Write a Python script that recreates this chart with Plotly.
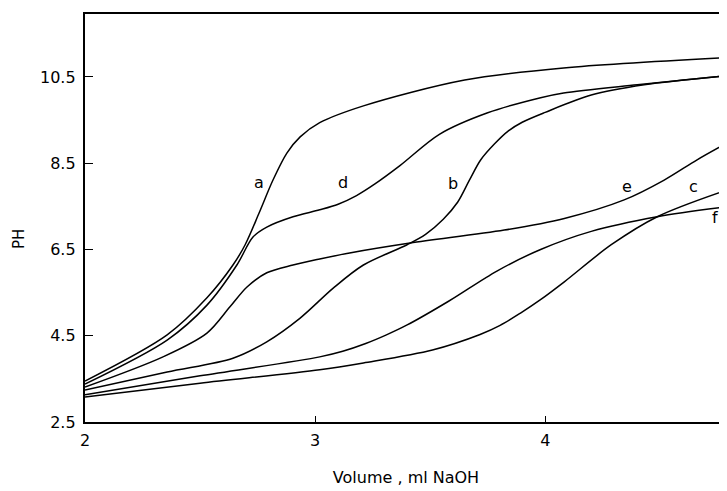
import plotly.graph_objects as go

# ---- data ----
a_x = [2.0, 2.357, 2.53, 2.643, 2.696, 2.757, 2.817, 2.878, 2.935, 3.02, 3.21, 3.65, 4.08, 4.79]
a_y = [3.45, 4.52, 5.38, 6.14, 6.61, 7.35, 8.11, 8.74, 9.11, 9.44, 9.83, 10.43, 10.71, 10.95]

d_x = [2.0, 2.357, 2.53, 2.66, 2.73, 2.79, 2.904, 3.02, 3.10, 3.18, 3.26, 3.37, 3.54, 3.75, 3.98, 4.08, 4.40, 4.79]
d_y = [3.38, 4.40, 5.21, 6.14, 6.79, 7.02, 7.26, 7.42, 7.55, 7.75, 8.02, 8.45, 9.17, 9.67, 10.02, 10.13, 10.32, 10.53]

b_x = [2.0, 2.357, 2.643, 2.79, 2.935, 3.08, 3.21, 3.40, 3.48, 3.557, 3.62, 3.67, 3.72, 3.78, 3.84, 3.90, 4.0, 4.2, 4.43, 4.79]
b_y = [3.24, 3.66, 3.98, 4.36, 4.91, 5.61, 6.14, 6.61, 6.85, 7.20, 7.60, 8.10, 8.58, 8.95, 9.25, 9.45, 9.68, 10.08, 10.32, 10.53]

e_x = [2.0, 2.339, 2.53, 2.63, 2.704, 2.79, 2.904, 3.02, 3.15, 3.413, 3.822, 4.083, 4.343, 4.517, 4.66, 4.79]
e_y = [3.31, 4.01, 4.56, 5.17, 5.63, 5.96, 6.14, 6.28, 6.42, 6.65, 6.95, 7.22, 7.65, 8.11, 8.58, 8.97]

f_x = [2.0, 2.5, 3.02, 3.12, 3.22, 3.31, 3.4, 3.58, 3.79, 3.98, 4.2, 4.487, 4.79]
f_y = [3.13, 3.57, 4.01, 4.14, 4.32, 4.52, 4.75, 5.30, 6.00, 6.50, 6.92, 7.26, 7.49]

c_x = [2.0, 2.5, 3.02, 3.21, 3.51, 3.717, 3.804, 3.891, 3.978, 4.083, 4.287, 4.487, 4.79]
c_y = [3.08, 3.40, 3.71, 3.87, 4.17, 4.53, 4.74, 5.02, 5.33, 5.75, 6.61, 7.26, 7.88]

curve_names = ["a", "d", "b", "e", "f", "c"]
label_names = ["a", "d", "b", "e", "f", "c"]
label_x = [2.757, 3.122, 3.60, 4.357, 4.74, 4.643]
label_y = [8.05, 8.05, 8.03, 7.96, 7.24, 7.96]

x_ticks = [2, 3, 4]
y_ticks = [2.5, 4.5, 6.5, 8.5, 10.5]
y_ticktext = ["2.5", "4.5", "6.5", "8.5", "10.5"]

series = {"a": (a_x, a_y), "d": (d_x, d_y), "b": (b_x, b_y),
          "e": (e_x, e_y), "f": (f_x, f_y), "c": (c_x, c_y)}

FONT = "DejaVu Sans"
fig = go.Figure()
for name in curve_names:
    xs, ys = series[name]
    fig.add_trace(go.Scatter(x=xs, y=ys, mode="lines", name=name,
                             line=dict(color="black", width=1.5, shape="spline", smoothing=0.9),
                             showlegend=False, hoverinfo="skip"))

for lx, ly, lt in zip(label_x, label_y, label_names):
    fig.add_annotation(x=lx, y=ly, text=lt, showarrow=False,
                       font=dict(family=FONT, size=16, color="black"))

# page body adds an 8px offset; margins compensate so the axes land where the reference has them
fig.add_annotation(xref="paper", yref="y", x=-0.104, y=6.75, text="PH", textangle=-90,
                   xanchor="center", yanchor="middle",
                   showarrow=False, font=dict(family=FONT, size=15, color="black"))

fig.update_layout(
    width=727, height=491,
    margin=dict(l=77, r=8, t=6, b=77, autoexpand=False),
    paper_bgcolor="white", plot_bgcolor="white",
    font=dict(family=FONT, size=15, color="black"),
    xaxis=dict(range=[2, 4.79], tickvals=x_ticks, ticks="inside", ticklen=6,
               tickwidth=1, tickcolor="black", showline=True, linewidth=2.4,
               linecolor="black", mirror=True, showgrid=False, zeroline=False,
               ticklabelstandoff=3,
               tickfont=dict(family=FONT, size=16),
               title=dict(text="Volume , ml NaOH", standoff=22,
                          font=dict(family=FONT, size=16))),
    yaxis=dict(range=[2.5, 11.96], tickvals=y_ticks, ticktext=y_ticktext,
               ticks="inside", ticklen=8, tickwidth=1, tickcolor="black",
               showline=True, linewidth=2.4, linecolor="black",
               showgrid=False, zeroline=False, ticklabelstandoff=4,
               tickfont=dict(family=FONT, size=16)),
)

fig.write_html("out.html")
